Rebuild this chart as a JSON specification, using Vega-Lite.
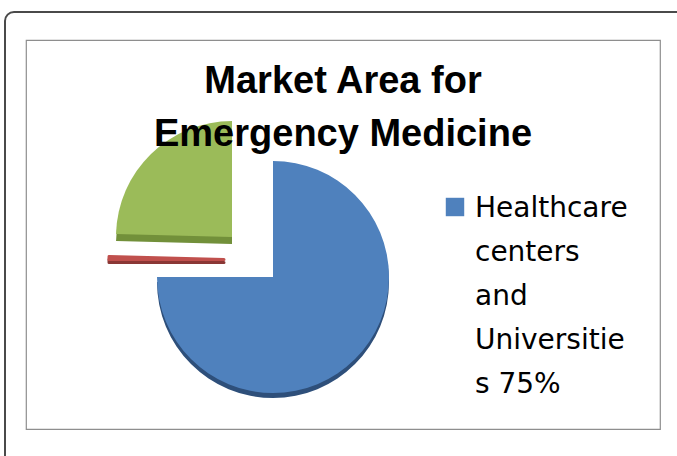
{
  "$schema": "https://vega.github.io/schema/vega-lite/v6.json",
  "width": 634,
  "height": 389,
  "autosize": {"type": "none"},
  "padding": {"left": 26, "top": 40, "right": 17, "bottom": 27},
  "background": "white",
  "config": {"view": {"stroke": "#8e8e8e", "strokeWidth": 1.2}, "font": "Liberation Sans"},
  "title": {
    "text": ["Market Area for", "Emergency Medicine"],
    "font": "Liberation Sans",
    "fontSize": 38,
    "fontWeight": "bold",
    "color": "#000000",
    "anchor": "middle",
    "frame": "group",
    "baseline": "alphabetic",
    "lineHeight": 53,
    "offset": -173
  },
  "data": {
    "values": [
      {"segment": "Healthcare centers and Universities", "share": 75, "rank": 1},
      {"segment": "Segment 2", "share": 0.4, "rank": 2},
      {"segment": "Segment 3", "share": 24.6, "rank": 3}
    ]
  },
  "layer": [
    {
      "data": {"values": [{"frame": "outer"}]},
      "mark": {"type": "rect", "fill": null, "stroke": "#4a4a4a", "strokeWidth": 2, "cornerRadius": 9, "xOffset": -21, "yOffset": -28, "x2Offset": 40, "y2Offset": 40},
      "encoding": {"x": {"value": 0}, "x2": {"value": "width"}, "y": {"value": 0}, "y2": {"value": "height"}}
    },
    {
      "mark": {"type": "arc", "outerRadius": 116, "xOffset": -70, "yOffset": 47.5},
      "encoding": {
        "theta": {"field": "share", "type": "quantitative", "stack": true},
        "order": {"field": "rank"},
        "color": {"value": "#2e4f7a"},
        "opacity": {"condition": {"test": "datum.segment === 'Healthcare centers and Universities'", "value": 1}, "value": 0}
      }
    },
    {
      "mark": {"type": "arc", "outerRadius": 115, "xOffset": -119, "yOffset": 28, "stroke": "#8a3735", "strokeWidth": 3, "strokeJoin": "round"},
      "encoding": {
        "theta": {"field": "share", "type": "quantitative", "stack": true},
        "order": {"field": "rank"},
        "color": {"value": "#8a3735"},
        "opacity": {"condition": {"test": "datum.segment === 'Segment 2'", "value": 1}, "value": 0}
      }
    },
    {
      "mark": {"type": "arc", "outerRadius": 116, "xOffset": -111, "yOffset": 9.5},
      "encoding": {
        "theta": {"field": "share", "type": "quantitative", "stack": true},
        "order": {"field": "rank"},
        "color": {"value": "#72903a"},
        "opacity": {"condition": {"test": "datum.segment === 'Segment 3'", "value": 1}, "value": 0}
      }
    },
    {
      "mark": {"type": "arc", "outerRadius": 116, "xOffset": -70, "yOffset": 42.5},
      "encoding": {
        "theta": {"field": "share", "type": "quantitative", "stack": true},
        "order": {"field": "rank"},
        "color": {
          "field": "segment",
          "type": "nominal",
          "scale": {"domain": ["Healthcare centers and Universities", "Segment 2", "Segment 3"], "range": ["#4f81bd", "#c0504d", "#9bbb59"]},
          "legend": {
            "orient": "none",
            "legendX": 415,
            "legendY": 153,
            "title": null,
            "values": ["Healthcare centers and Universities"],
            "symbolType": "square",
            "symbolSize": 340,
            "symbolStrokeWidth": 0,
            "symbolOpacity": 1,
            "labelFont": "DejaVu Sans",
            "labelFontSize": 28,
            "labelColor": "#000000",
            "labelLimit": 0,
            "labelOffset": 6,
            "labelBaseline": "top",
            "labelExpr": "['Healthcare', 'centers', 'and', 'Universitie', 's 75%']",
            "encode": {"labels": {"update": {"lineHeight": {"value": 44}, "dy": {"value": -12}}}}
          }
        },
        "opacity": {"condition": {"test": "datum.segment === 'Healthcare centers and Universities'", "value": 1}, "value": 0}
      }
    },
    {
      "mark": {"type": "arc", "outerRadius": 115, "xOffset": -119, "yOffset": 25, "stroke": "#c0504d", "strokeWidth": 3, "strokeJoin": "round"},
      "encoding": {
        "theta": {"field": "share", "type": "quantitative", "stack": true},
        "order": {"field": "rank"},
        "color": {"value": "#c0504d"},
        "opacity": {"condition": {"test": "datum.segment === 'Segment 2'", "value": 1}, "value": 0}
      }
    },
    {
      "mark": {"type": "arc", "outerRadius": 116, "xOffset": -111, "yOffset": 2.5},
      "encoding": {
        "theta": {"field": "share", "type": "quantitative", "stack": true},
        "order": {"field": "rank"},
        "color": {"value": "#9bbb59"},
        "opacity": {"condition": {"test": "datum.segment === 'Segment 3'", "value": 1}, "value": 0}
      }
    }
  ]
}
